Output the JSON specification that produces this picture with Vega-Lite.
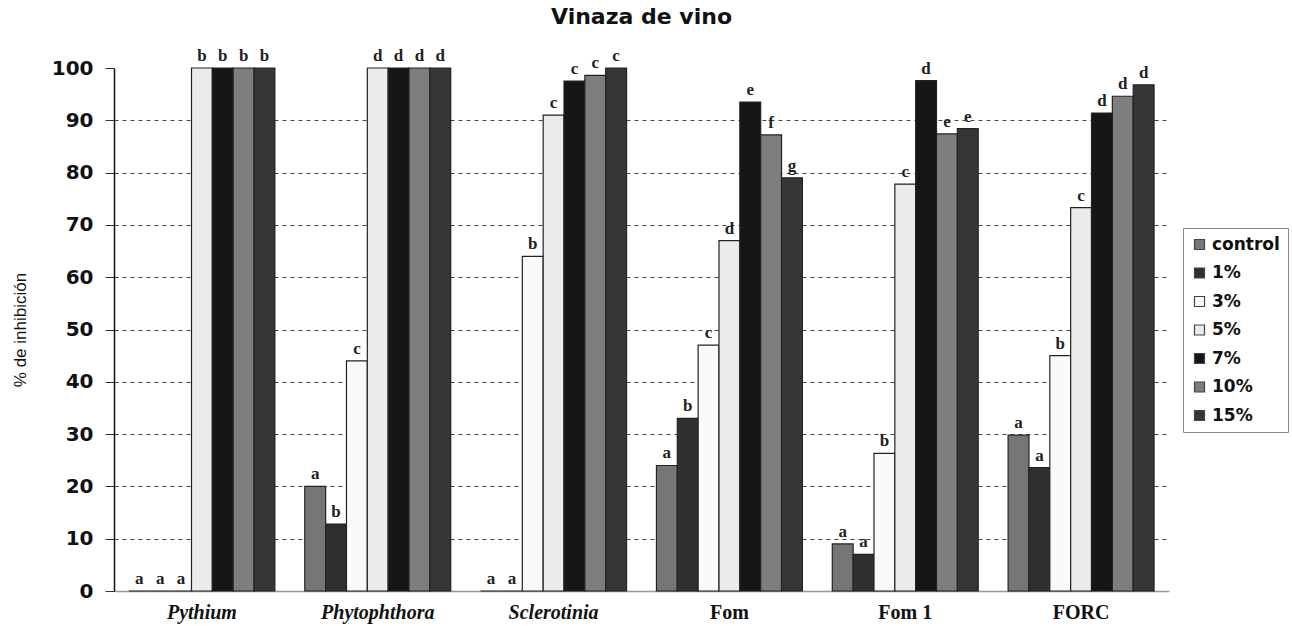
{
  "$schema": "https://vega.github.io/schema/vega-lite/v6.json",
  "autosize": {"type": "none"},
  "padding": {"left": 114, "top": 68, "right": 124, "bottom": 35},
  "width": 1055,
  "height": 523,
  "background": "white",
  "config": {"view": {"stroke": null}},
  "title": {
    "text": "Vinaza de vino",
    "font": "DejaVu Sans",
    "fontSize": 22,
    "fontWeight": "bold",
    "color": "#111",
    "frame": "group",
    "anchor": "middle",
    "offset": 18
  },
  "data": {
    "values": [
      {"g": "Pythium", "s": "control", "v": 0, "l": "a"},
      {"g": "Pythium", "s": "1%", "v": 0, "l": "a"},
      {"g": "Pythium", "s": "3%", "v": 0, "l": "a"},
      {"g": "Pythium", "s": "5%", "v": 100, "l": "b"},
      {"g": "Pythium", "s": "7%", "v": 100, "l": "b"},
      {"g": "Pythium", "s": "10%", "v": 100, "l": "b"},
      {"g": "Pythium", "s": "15%", "v": 100, "l": "b"},
      {"g": "Phytophthora", "s": "control", "v": 20, "l": "a"},
      {"g": "Phytophthora", "s": "1%", "v": 12.8, "l": "b"},
      {"g": "Phytophthora", "s": "3%", "v": 44, "l": "c"},
      {"g": "Phytophthora", "s": "5%", "v": 100, "l": "d"},
      {"g": "Phytophthora", "s": "7%", "v": 100, "l": "d"},
      {"g": "Phytophthora", "s": "10%", "v": 100, "l": "d"},
      {"g": "Phytophthora", "s": "15%", "v": 100, "l": "d"},
      {"g": "Sclerotinia", "s": "control", "v": 0, "l": "a"},
      {"g": "Sclerotinia", "s": "1%", "v": 0, "l": "a"},
      {"g": "Sclerotinia", "s": "3%", "v": 64, "l": "b"},
      {"g": "Sclerotinia", "s": "5%", "v": 91, "l": "c"},
      {"g": "Sclerotinia", "s": "7%", "v": 97.5, "l": "c"},
      {"g": "Sclerotinia", "s": "10%", "v": 98.6, "l": "c"},
      {"g": "Sclerotinia", "s": "15%", "v": 100, "l": "c"},
      {"g": "Fom", "s": "control", "v": 24, "l": "a"},
      {"g": "Fom", "s": "1%", "v": 33, "l": "b"},
      {"g": "Fom", "s": "3%", "v": 47, "l": "c"},
      {"g": "Fom", "s": "5%", "v": 67, "l": "d"},
      {"g": "Fom", "s": "7%", "v": 93.5, "l": "e"},
      {"g": "Fom", "s": "10%", "v": 87.2, "l": "f"},
      {"g": "Fom", "s": "15%", "v": 79, "l": "g"},
      {"g": "Fom 1", "s": "control", "v": 9, "l": "a"},
      {"g": "Fom 1", "s": "1%", "v": 7, "l": "a"},
      {"g": "Fom 1", "s": "3%", "v": 26.3, "l": "b"},
      {"g": "Fom 1", "s": "5%", "v": 77.8, "l": "c"},
      {"g": "Fom 1", "s": "7%", "v": 97.6, "l": "d"},
      {"g": "Fom 1", "s": "10%", "v": 87.4, "l": "e"},
      {"g": "Fom 1", "s": "15%", "v": 88.4, "l": "e"},
      {"g": "FORC", "s": "control", "v": 29.8, "l": "a"},
      {"g": "FORC", "s": "1%", "v": 23.6, "l": "a"},
      {"g": "FORC", "s": "3%", "v": 45, "l": "b"},
      {"g": "FORC", "s": "5%", "v": 73.3, "l": "c"},
      {"g": "FORC", "s": "7%", "v": 91.4, "l": "d"},
      {"g": "FORC", "s": "10%", "v": 94.6, "l": "d"},
      {"g": "FORC", "s": "15%", "v": 96.8, "l": "d"}
    ]
  },
  "encoding": {
    "x": {
      "field": "g",
      "type": "nominal",
      "sort": ["Pythium", "Phytophthora", "Sclerotinia", "Fom", "Fom 1", "FORC"],
      "scale": {"paddingInner": 0.17, "paddingOuter": 0.085},
      "axis": {
        "title": null,
        "labelAngle": 0,
        "labelFont": "Liberation Serif",
        "labelFontSize": 20,
        "labelFontWeight": "bold",
        "labelFontStyle": {"condition": {"test": "indexof(['Pythium','Phytophthora','Sclerotinia'], datum.value) >= 0", "value": "italic"}, "value": "normal"},
        "labelColor": "#111",
        "labelPadding": 11,
        "ticks": false,
        "domainColor": "#999",
        "domainWidth": 1.5,
        "grid": false
      }
    },
    "xOffset": {
      "field": "s",
      "type": "nominal",
      "sort": ["control", "1%", "3%", "5%", "7%", "10%", "15%"],
      "scale": {"paddingInner": 0, "paddingOuter": 0}
    },
    "y": {
      "field": "v",
      "type": "quantitative",
      "scale": {"domain": [0, 100], "nice": false},
      "axis": {
        "title": "% de inhibición",
        "titleFont": "Liberation Sans",
        "titleFontSize": 17,
        "titleFontWeight": "normal",
        "titleColor": "#111",
        "titlePadding": 22,
        "values": [0, 10, 20, 30, 40, 50, 60, 70, 80, 90, 100],
        "labelFont": "DejaVu Sans",
        "labelFontSize": 20,
        "labelFontWeight": "bold",
        "labelColor": "#111",
        "labelPadding": 12,
        "tickSize": 9,
        "tickColor": "#333",
        "domainColor": "#111",
        "domainWidth": 1.5,
        "grid": true,
        "gridColor": "#444",
        "gridDash": [4, 4],
        "gridWidth": 1.2,
        "gridOpacity": {"condition": {"test": "datum.value == 0 || datum.value == 100", "value": 0}, "value": 1}
      }
    }
  },
  "layer": [
    {
      "mark": {"type": "bar", "stroke": "#222", "strokeWidth": 1.2},
      "encoding": {
        "color": {
          "field": "s",
          "type": "nominal",
          "scale": {
            "domain": ["control", "1%", "3%", "5%", "7%", "10%", "15%"],
            "range": ["#767676", "#303030", "#fafafa", "#ebebeb", "#161616", "#7e7e7e", "#363636"]
          },
          "legend": {
            "title": null,
            "orient": "none",
            "legendX": 1069,
            "legendY": 160,
            "strokeColor": "#888",
            "fillColor": "white",
            "padding": 8,
            "symbolType": "square",
            "symbolSize": 100,
            "symbolStrokeColor": "#444",
            "symbolStrokeWidth": 1.2,
            "labelFont": "DejaVu Sans",
            "labelFontSize": 17,
            "labelFontWeight": "bold",
            "labelColor": "#111",
            "labelOffset": 4,
            "rowPadding": 10.5
          }
        }
      }
    },
    {
      "mark": {
        "type": "text",
        "baseline": "bottom",
        "dy": -3,
        "font": "Liberation Serif",
        "fontSize": 17,
        "fontWeight": "bold",
        "color": "#222"
      },
      "encoding": {
        "text": {"field": "l"}
      }
    }
  ]
}
